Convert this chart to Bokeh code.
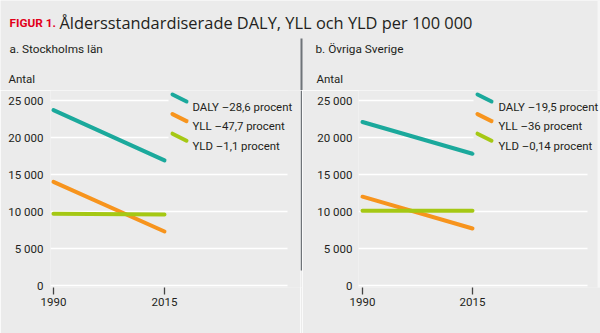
from bokeh.plotting import figure
from bokeh.models import Label, BoxAnnotation, FixedTicker, Range1d
from bokeh.layouts import column, row
from bokeh.embed import file_html
from bokeh.resources import INLINE

# ---------------- data ----------------
years = [1990, 2015]
tick_values = [0, 5000, 10000, 15000, 20000, 25000]
tick_labels = ["0", "5 000", "10 000", "15 000", "20 000", "25 000"]
series = ["DALY", "YLL", "YLD"]

sthlm_daly = [23700, 16900]
sthlm_yll = [14000, 7300]
sthlm_yld = [9700, 9600]

ovr_daly = [22100, 17800]
ovr_yll = [12000, 7700]
ovr_yld = [10100, 10090]

legend_sthlm = ["DALY –28,6 procent", "YLL –47,7 procent", "YLD –1,1 procent"]
legend_ovr = ["DALY –19,5 procent", "YLL –36 procent", "YLD –0,14 procent"]

title_red = "FIGUR 1."
title_text = "Åldersstandardiserade DALY, YLL och YLD per 100 000"
sub_a = "a. Stockholms län"
sub_b = "b. Övriga Sverige"
unit_label = "Antal"

# ---------------- style ----------------
BG = "#ebebeb"
TXT = "#231f20"
RED = "#e2001a"
SEP = "#6e7378"
EDGE = "#f6f6f6"
COLORS = ["#1ba99c", "#f7941d", "#a5c814"]
FONT = "Roboto"

TOP_H = 90          # height of the header strip (abs px)
PANEL_H = 333 - TOP_H


def blank(width, height):
    p = figure(width=width, height=height, x_range=Range1d(0, width), y_range=Range1d(height, 0),
               x_axis_type=None, y_axis_type=None, output_backend="svg",
               toolbar_location=None, min_border=0)
    p.outline_line_color = None
    p.background_fill_color = BG
    p.border_fill_color = BG
    p.grid.visible = False
    return p


def make_header():
    p = blank(600, TOP_H)
    p.add_layout(Label(x=9, y=22, text=title_red, text_font=FONT,
                       text_font_style="bold", text_font_size="11.8px", text_color=RED,
                       text_baseline="alphabetic"))
    p.add_layout(Label(x=59, y=22, text=title_text, text_font="Open Sans",
                       text_font_size="16.4px", text_color=TXT, text_baseline="alphabetic"))
    p.add_layout(Label(x=9, y=48.5, text=sub_a, text_font=FONT,
                       text_font_size="11.8px", text_color=TXT, text_baseline="alphabetic"))
    p.add_layout(Label(x=315, y=48.5, text=sub_b, text_font=FONT,
                       text_font_size="11.8px", text_color=TXT, text_baseline="alphabetic"))
    p.add_layout(Label(x=8, y=78, text=unit_label, text_font=FONT,
                       text_font_size="11.5px", text_color=TXT, text_baseline="alphabetic"))
    p.add_layout(Label(x=316, y=78, text=unit_label, text_font=FONT,
                       text_font_size="11.5px", text_color=TXT, text_baseline="alphabetic"))
    p.add_layout(BoxAnnotation(left=300, right=302, top=38, bottom=TOP_H,
                               fill_color=SEP, fill_alpha=1, line_color=None))
    p.add_layout(BoxAnnotation(left=597, right=600, top=0, bottom=TOP_H,
                               fill_color=EDGE, fill_alpha=1, line_color=None))
    return p


def make_separator():
    p = blank(2, PANEL_H)
    p.add_layout(BoxAnnotation(left=0, right=2, top=0, bottom=312 - TOP_H,
                               fill_color=SEP, fill_alpha=1, line_color=None))
    return p


def make_panel(vals, legend_labels, off, W, grid_l, grid_r, x1990, x2015,
               leg_x, text_x, box_x, standoff, edge):
    # all geometry given in absolute picture px; off = panel's left edge
    fl = grid_l - off
    fb = 287 - TOP_H
    zero_abs = 285
    xs = (x2015 - x1990) / (years[1] - years[0])
    x0 = years[0] - (x1990 - grid_l) / xs
    x1 = x0 + (off + W - grid_l) / xs
    ys = 7.4 / 1000
    y0 = -(287 - zero_abs) / ys
    y1 = y0 + fb / ys

    def dx(ax):
        return x0 + (ax - grid_l) / xs

    def dy(ay):
        return y0 + (287 - ay) / ys

    p = figure(width=W, height=PANEL_H, x_range=Range1d(x0, x1), y_range=Range1d(y0, y1),
               output_backend="svg", toolbar_location=None,
               min_border_left=fl, min_border_right=0,
               min_border_top=0, min_border_bottom=PANEL_H - fb)
    p.outline_line_color = None
    p.background_fill_color = BG
    p.border_fill_color = BG

    # grid
    p.xgrid.visible = False
    p.ygrid.ticker = FixedTicker(ticks=tick_values)
    p.ygrid.grid_line_color = "white"
    p.ygrid.grid_line_width = 1.5

    # y axis
    ya = p.yaxis[0]
    ya.ticker = FixedTicker(ticks=tick_values)
    ya.major_label_overrides = {v: s for v, s in zip(tick_values, tick_labels)}
    ya.axis_line_color = None
    ya.major_tick_line_color = None
    ya.minor_tick_line_color = None
    ya.major_tick_in = 0
    ya.major_tick_out = 0
    ya.major_label_standoff = standoff
    ya.major_label_text_font = FONT
    ya.major_label_text_font_size = "11.5px"
    ya.major_label_text_color = TXT

    # x axis
    xa = p.xaxis[0]
    xa.ticker = FixedTicker(ticks=years)
    xa.major_label_overrides = {y: str(y) for y in years}
    xa.axis_line_color = None
    xa.minor_tick_line_color = None
    xa.major_tick_line_color = "#444444"
    xa.major_tick_line_width = 1.3
    xa.major_tick_in = 0
    xa.major_tick_out = 7
    xa.major_label_standoff = 3
    xa.major_label_text_font = FONT
    xa.major_label_text_font_size = "11.5px"
    xa.major_label_text_color = TXT

    # data lines
    for v, c in zip(vals, COLORS):
        p.line(years, v, line_color=c, line_width=4, line_cap="round")

    # hide grid beyond its right end, and behind the legend
    p.add_layout(BoxAnnotation(left=dx(grid_r), right=dx(off + W), top=dy(TOP_H), bottom=dy(333),
                               fill_color=BG, fill_alpha=1, line_color=None))
    p.add_layout(BoxAnnotation(left=dx(box_x), right=dx(off + W), top=dy(TOP_H), bottom=dy(152),
                               fill_color=BG, fill_alpha=1, line_color=None))
    if edge:
        p.add_layout(BoxAnnotation(left=dx(597), right=dx(600), top=dy(TOP_H), bottom=dy(333),
                                   fill_color=EDGE, fill_alpha=1, line_color=None))

    # legend entries
    step = 19.6
    for i, (lab, c) in enumerate(zip(legend_labels, COLORS)):
        r = p.segment(x0=[dx(leg_x)], y0=[dy(94 + i * step)],
                      x1=[dx(leg_x + 14)], y1=[dy(101 + i * step)],
                      line_color=c, line_width=4, line_cap="round")
        r.level = "overlay"
        p.add_layout(Label(x=dx(text_x), y=dy(106 + i * step), text=lab, text_font=FONT,
                           text_font_size="11.4px", text_color=TXT, text_baseline="alphabetic"))
    return p


header = make_header()
left = make_panel([sthlm_daly, sthlm_yll, sthlm_yld], legend_sthlm,
                  off=0, W=300, grid_l=50, grid_r=287, x1990=53, x2015=164,
                  leg_x=172, text_x=192, box_x=168, standoff=7, edge=False)
sep = make_separator()
right = make_panel([ovr_daly, ovr_yll, ovr_yld], legend_ovr,
                   off=302, W=298, grid_l=358, grid_r=587, x1990=362, x2015=472,
                   leg_x=477, text_x=498, box_x=473, standoff=6, edge=True)

layout = column(header, row(left, sep, right, spacing=0), spacing=0)
open("out.html", "w").write(file_html(layout, INLINE))
